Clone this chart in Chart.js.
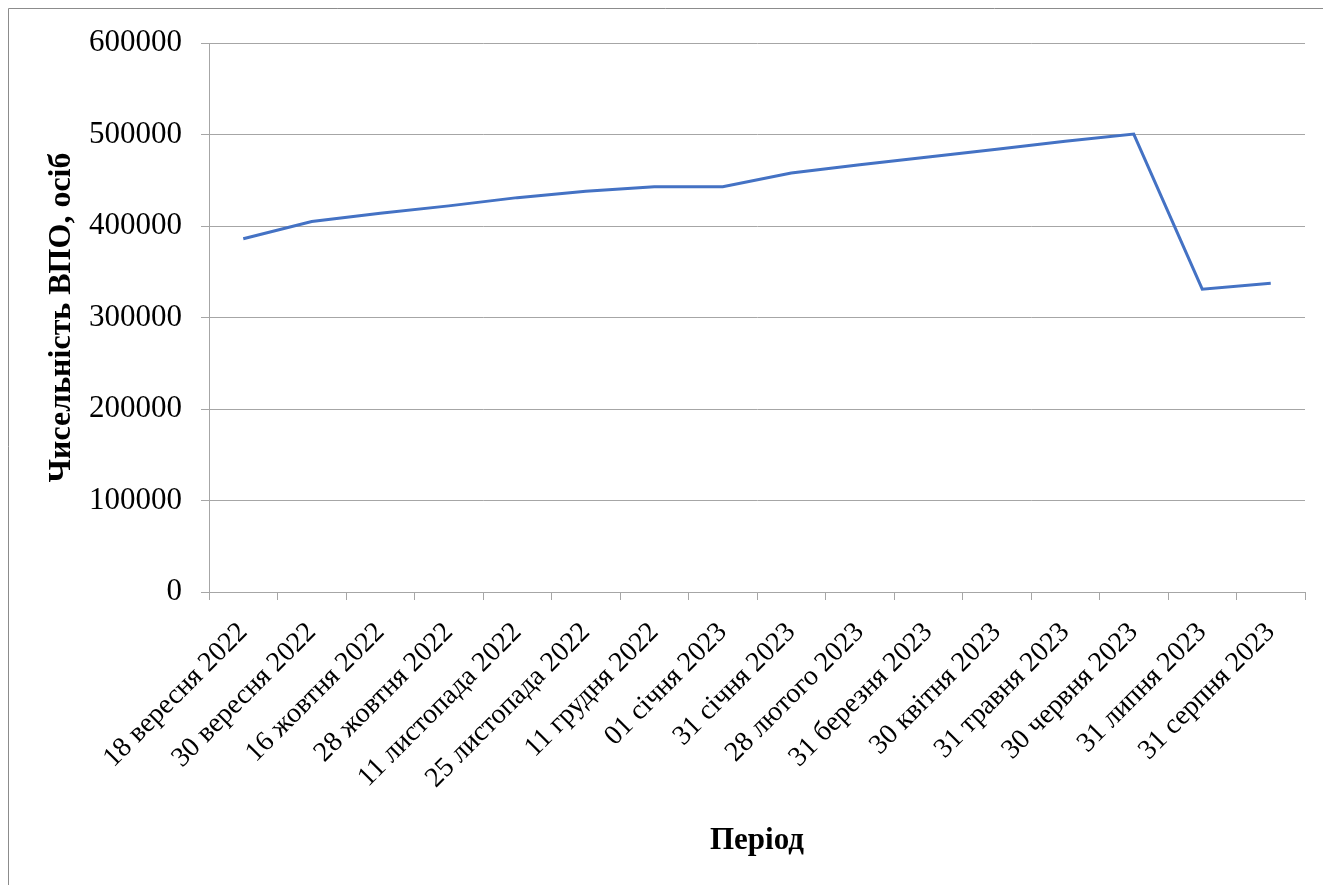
<!DOCTYPE html>
<html>
<head>
<meta charset="utf-8">
<script src="https://cdn.jsdelivr.net/npm/chart.js@4.4.0/dist/chart.umd.min.js"></script>
<style>
  html, body { margin: 0; padding: 0; background: #fff; }
  #wrap { width: 1323px; height: 885px; position: relative; }
</style>
</head>
<body>
<div id="wrap"><canvas id="idpChart"></canvas></div>
<script>
const periods = ['18 вересня 2022', '30 вересня 2022', '16 жовтня 2022', '28 жовтня 2022',
    '11 листопада 2022', '25 листопада 2022', '11 грудня 2022', '01 січня 2023',
    '31 січня 2023', '28 лютого 2023', '31 березня 2023', '30 квітня 2023',
    '31 травня 2023', '30 червня 2023', '31 липня 2023', '31 серпня 2023'];
const idpCount = [386000, 405000, 414000, 422000, 431000, 438000, 443000, 443000,
    458000, 467000, 475500, 484000, 492500, 500500, 331000, 337500];
const yTicks = [0, 100000, 200000, 300000, 400000, 500000, 600000];

const gridGray = '#a6a6a6';
const serif = "'Liberation Serif', 'Times New Roman', serif";

// thin frame on the left and top edge, like the source image
const framePlugin = {
    id: 'frame',
    beforeDraw(chart) {
        const c = chart.ctx;
        c.save();
        c.strokeStyle = '#8c8c8c';
        c.lineWidth = 1;
        c.beginPath();
        c.moveTo(8.5, 885);
        c.lineTo(8.5, 8.5);
        c.lineTo(1323, 8.5);
        c.stroke();
        c.restore();
    }
};

new Chart(document.getElementById('idpChart'), {
    type: 'line',
    data: {
        labels: periods,
        datasets: [{
            data: idpCount,
            borderColor: '#4472c4',
            borderWidth: 3,
            pointRadius: 0,
            tension: 0,
            fill: false
        }]
    },
    plugins: [framePlugin],
    options: {
        responsive: true,
        maintainAspectRatio: false,
        animation: false,
        layout: { padding: { top: 43, right: 18, left: 0, bottom: 0 } },
        plugins: { legend: { display: false }, tooltip: { enabled: false } },
        scales: {
            x: {
                offset: true,
                grid: { offset: true, drawOnChartArea: false, color: gridGray, tickLength: 8 },
                border: { color: gridGray },
                ticks: { color: '#000', minRotation: 45, maxRotation: 45, padding: 16,
                    font: { family: serif, size: 28 } },
                title: { display: true, text: 'Період', color: '#000',
                    font: { family: serif, size: 31, weight: 'bold' }, padding: { top: 0, bottom: 25 } },
                afterFit(scale) { scale.height = 293; }
            },
            y: {
                min: 0,
                max: 600000,
                afterBuildTicks(scale) { scale.ticks = yTicks.map(v => ({ value: v })); },
                grid: { color: gridGray, tickLength: 8 },
                border: { color: gridGray },
                ticks: { color: '#000', padding: 19, font: { family: serif, size: 31 },
                    callback: v => String(v) },
                title: { display: true, text: 'Чисельність ВПО, осіб', color: '#000',
                    font: { family: serif, size: 32, weight: 'bold' }, padding: { top: 43, bottom: 0 } },
                afterFit(scale) { scale.width = 209; }
            }
        }
    }
});
</script>
</body>
</html>
